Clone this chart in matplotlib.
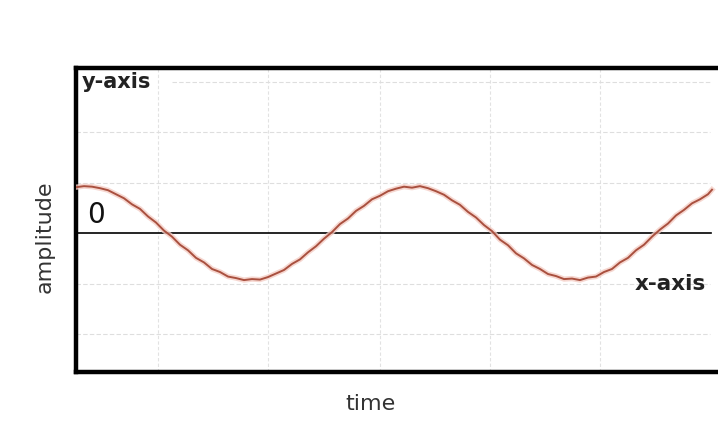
import matplotlib.pyplot as plt

# values (time in px steps, amplitude in grid units)
time = [0, 8, 16, 24, 32, 40, 48, 56, 64, 72, 80, 88, 96, 104, 112, 120,
        128, 136, 144, 152, 160, 168, 176, 184, 192, 200, 208, 216, 224,
        232, 240, 248, 256, 264, 272, 280, 288, 296, 304, 312, 320, 328,
        336, 344, 352, 360, 368, 376, 384, 392, 400, 408, 416, 424, 432,
        440, 448, 456, 464, 472, 480, 488, 496, 504, 512, 520, 528, 536,
        544, 552, 560, 568, 576, 584, 592, 600, 608, 616, 624, 632, 636]
amplitude = [0.91, 0.93, 0.92, 0.89, 0.85, 0.77, 0.69, 0.57, 0.48, 0.33,
             0.21, 0.05, -0.07, -0.23, -0.34, -0.49, -0.58, -0.71, -0.77,
             -0.86, -0.89, -0.93, -0.91, -0.92, -0.87, -0.80, -0.73, -0.61,
             -0.52, -0.38, -0.26, -0.11, 0.02, 0.18, 0.29, 0.44, 0.54,
             0.67, 0.74, 0.83, 0.88, 0.92, 0.90, 0.93, 0.89, 0.83, 0.76,
             0.65, 0.56, 0.42, 0.31, 0.16, 0.04, -0.13, -0.24, -0.40,
             -0.50, -0.63, -0.71, -0.81, -0.85, -0.91, -0.90, -0.93, -0.88,
             -0.86, -0.77, -0.71, -0.58, -0.49, -0.34, -0.23, -0.07, 0.07,
             0.19, 0.35, 0.46, 0.59, 0.67, 0.77, 0.86]
grid_x = [82, 192, 304, 414, 524]
grid_y = [-2, -1, 1, 2, 3]

fig = plt.figure(figsize=(7.18, 4.44), dpi=100)
ax = fig.add_axes([76 / 718, 1 - 372 / 444, 1 - 76 / 718, (372 - 68) / 444])

# faint grid
for gx in grid_x:
    ax.axvline(gx, color='#e2e2e2', lw=0.8, ls=(0, (3, 2)), zorder=0)
for gy in grid_y:
    # top line starts after the "y-axis" label
    start = 96 / 642 if gy == 3 else 0
    ax.axhline(gy, xmin=start, xmax=634 / 642, color='#dedede', lw=0.8,
               ls=(0, (4, 2)), zorder=0)

# x-axis line through zero
ax.axhline(0, xmin=0, xmax=635 / 642, color='black', lw=1.2, zorder=2)

# the wave, with a soft halo like the scanned trace
ax.plot(time, amplitude, color='#f4cdc5', lw=3.8, alpha=0.8, zorder=3)
ax.plot(time, amplitude, color='#a9503f', lw=1.4, zorder=4)

ax.set_xlim(0, 642)
ax.set_ylim(-2.75, 3.27)
ax.set_xticks([])
ax.set_yticks([])
for side in ['left', 'top', 'bottom']:
    ax.spines[side].set_linewidth(3.2)
    ax.spines[side].set_color('black')
ax.spines['right'].set_visible(False)

fig.text(82 / 718, 1 - 72 / 444, 'y-axis', fontsize=15, fontweight='bold',
         color='#222222', ha='left', va='top')
fig.text(635 / 718, 1 - 290 / 444, 'x-axis', fontsize=15.5, fontweight='bold',
         color='#222222', ha='left', va='baseline')
fig.text(87 / 718, 1 - 223 / 444, '0', fontsize=20, color='#111111',
         ha='left', va='baseline')
fig.text(370 / 718, 1 - 410 / 444, 'time', fontsize=16, color='#333333',
         ha='center', va='baseline')
fig.text(45 / 718, 1 - 237 / 444, 'amplitude', fontsize=16, color='#333333',
         rotation=90, ha='center', va='center')

fig.savefig('out.png', dpi=100)
